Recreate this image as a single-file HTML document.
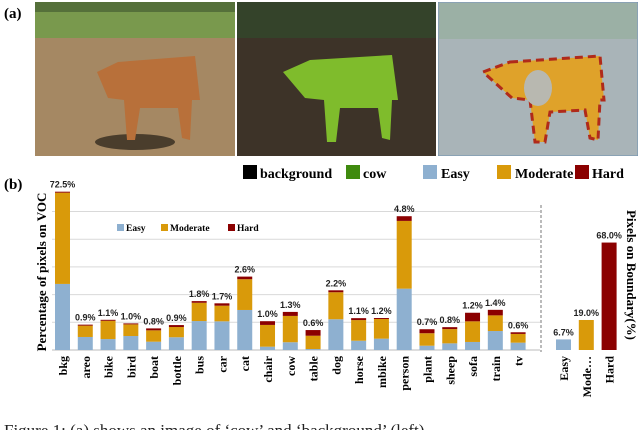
<!DOCTYPE html>
<html><head><meta charset="utf-8"><style>
body{margin:0;background:#fff;width:640px;height:430px;overflow:hidden}
svg{display:block}
.t{font-family:"Liberation Serif",serif;font-weight:bold}
.v{font-family:"Liberation Sans",sans-serif;font-weight:bold;font-size:9px;fill:#222}
</style></head><body>
<svg id="fig" width="640" height="430" viewBox="0 0 640 430">
<defs>
<clipPath id="c1"><rect x="35" y="2" width="200" height="154"/></clipPath>
<clipPath id="c2"><rect x="237" y="2" width="199" height="154"/></clipPath>
<clipPath id="c3"><rect x="438" y="2" width="200" height="154"/></clipPath>
</defs>
<text class="t" x="4" y="18" font-size="15">(a)</text>
<g clip-path="url(#c1)">
<rect x="35" y="2" width="200" height="154" fill="#a58863"/>
<rect x="35" y="2" width="200" height="36" fill="#79994d"/>
<rect x="35" y="2" width="200" height="10" fill="#55703a"/>
<ellipse cx="135" cy="142" rx="40" ry="8" fill="#4a3d2c"/>
<path d="M118,62 L195,56 L200,100 L192,100 L190,140 L182,138 L178,108 L140,108 L135,140 L127,140 L124,100 L108,98 L97,72 Z" fill="#b8703a"/>
</g>
<g clip-path="url(#c2)">
<rect x="237" y="2" width="199" height="154" fill="#3d3328"/>
<rect x="237" y="2" width="199" height="36" fill="#34432a"/>
<path d="M310,60 L392,55 L398,100 L392,100 L390,140 L382,138 L378,108 L340,108 L336,142 L327,142 L324,100 L305,98 L283,72 Z" fill="#7fbc2c"/>
</g>
<g clip-path="url(#c3)">
<rect x="438" y="2" width="200" height="154" fill="#a9b4b8" stroke="#6c8fb0"/>
<rect x="439" y="3" width="198" height="36" fill="#9bb0a5"/>
<path d="M510,62 L600,56 L604,100 L600,100 L598,140 L590,138 L585,110 L550,112 L545,142 L535,142 L530,100 L512,98 L483,72 Z" fill="#dfa22a" stroke="#b02a1a" stroke-width="3" stroke-dasharray="8 5"/>
<ellipse cx="538" cy="88" rx="14" ry="18" fill="#b8b8b0"/>
</g>
<g class="t" font-size="14">
<rect x="243" y="165" width="14" height="14" fill="#000"/><text x="260" y="178">background</text>
<rect x="346" y="165" width="14" height="14" fill="#3f8a0e"/><text x="363" y="178">cow</text>
<rect x="423" y="165" width="14" height="14" fill="#8eb0d0"/><text x="441" y="178">Easy</text>
<rect x="497" y="165" width="14" height="14" fill="#d99a0a"/><text x="515" y="178">Moderate</text>
<rect x="575" y="165" width="14" height="14" fill="#8b0000"/><text x="592" y="178">Hard</text>
</g>
<text class="t" x="4" y="189" font-size="15">(b)</text>
<g id="chart"></g>
<text class="t" font-size="13" transform="translate(46,272) rotate(-90)" text-anchor="middle">Percentage of pixels on VOC</text>
<text class="t" font-size="13" transform="translate(627,275) rotate(90)" text-anchor="middle">Pixels on Boundary(%)</text>
<g class="t" font-size="9.5">
<rect x="117" y="224" width="7" height="7" fill="#8eb0d0"/><text x="126" y="231">Easy</text>
<rect x="161" y="224" width="7" height="7" fill="#d99a0a"/><text x="170" y="231">Moderate</text>
<rect x="228" y="224" width="7" height="7" fill="#8b0000"/><text x="237" y="231">Hard</text>
</g>
<text font-family="Liberation Serif,serif" font-size="17" x="4" y="436" fill="#222">Figure 1:  (a) shows an image of ‘cow’ and ‘background’ (left)</text>
</svg>
<script>
const categories=["bkg","areo","bike","bird","boat","bottle","bus","car","cat","chair","cow","table","dog","horse","mbike","person","plant","sheep","sofa","train","tv"];
const easyVals=[47.7,9.4,7.9,10.1,6.0,9.2,20.9,20.7,28.9,2.4,5.6,0.7,22.2,6.7,8.2,44.3,3.1,4.8,5.8,13.7,5.3];
const modVals=[65.9,8.2,13.2,8.4,8.2,7.4,13.2,11.3,22.2,15.7,19.0,9.6,19.5,14.9,14.2,48.9,9.0,10.3,14.9,11.3,6.3];
const hardVals=[0.7,0.7,0.7,0.7,1.4,1.4,1.2,1.7,1.9,2.7,2.9,4.1,1.4,1.4,0.7,3.4,2.9,1.4,6.2,4.0,1.2];
const pctLabels=["72.5%","0.9%","1.1%","1.0%","0.8%","0.9%","1.8%","1.7%","2.6%","1.0%","1.3%","0.6%","2.2%","1.1%","1.2%","4.8%","0.7%","0.8%","1.2%","1.4%","0.6%"];
const gridTicks=[20,40,60,80,100];
const boundaryCats=["Easy","Mode…","Hard"];
const boundaryVals=[6.7,19.0,68.0];
const boundaryColors=["#8eb0d0","#d99a0a","#8b0000"];
const NS="http://www.w3.org/2000/svg";
const g=document.getElementById('chart');
const base=350;
const y=v=>base-v*1.385;
const yR=v=>base-v*1.58;
const x=i=>55+i*22.78;
const xR=i=>556+i*22.8;
function mk(t,a,p){const e=document.createElementNS(NS,t);for(const k in a)e.setAttribute(k,a[k]);(p||g).appendChild(e);return e;}
gridTicks.forEach(t=>{const l=mk('line',{x1:52,x2:540,y1:y(t),y2:y(t),stroke:'#d9d9d9','stroke-width':1});

});
const ax=mk('line',{x1:52,x2:540,y1:base,y2:base,stroke:'#bbb'});


const dv=mk('line',{x1:541,x2:541,y1:205,y2:352,stroke:'#777','stroke-dasharray':'3 2'});


categories.forEach((c,i)=>{
 const e=easyVals[i],m=modVals[i],h=hardVals[i];
 const r1=mk('rect',{x:x(i),y:y(e),width:15,height:base-y(e),fill:'#8eb0d0'});
 
 
 const r2=mk('rect',{x:x(i),y:y(e+m),width:15,height:y(e)-y(e+m),fill:'#d99a0a'});
 
 
 const r3=mk('rect',{x:x(i),y:y(e+m+h),width:15,height:y(e+m)-y(e+m+h),fill:'#8b0000'});
 
 
 const lb=mk('text',{x:x(i)+7.5,y:y(e+m+h)-4,'text-anchor':'middle',class:'v'});lb.textContent=pctLabels[i];
 
 
 const tl=mk('text',{class:'t','font-size':'12',transform:`translate(${x(i)+12},356) rotate(-90)`,'text-anchor':'end'});tl.textContent=c;
 
 
});
boundaryCats.forEach((c,i)=>{
 const v=boundaryVals[i];
 const r=mk('rect',{x:xR(i),y:yR(v),width:15,height:base-yR(v),fill:boundaryColors[i]});
 
 
 const lb=mk('text',{x:xR(i)+7.5,y:yR(v)-4,'text-anchor':'middle',class:'v'});lb.textContent=v.toFixed(1)+'%';
 
 
 const tl=mk('text',{class:'t','font-size':'12',transform:`translate(${xR(i)+12},356) rotate(-90)`,'text-anchor':'end'});tl.textContent=c;
 
 
});
</script>
</body></html>
